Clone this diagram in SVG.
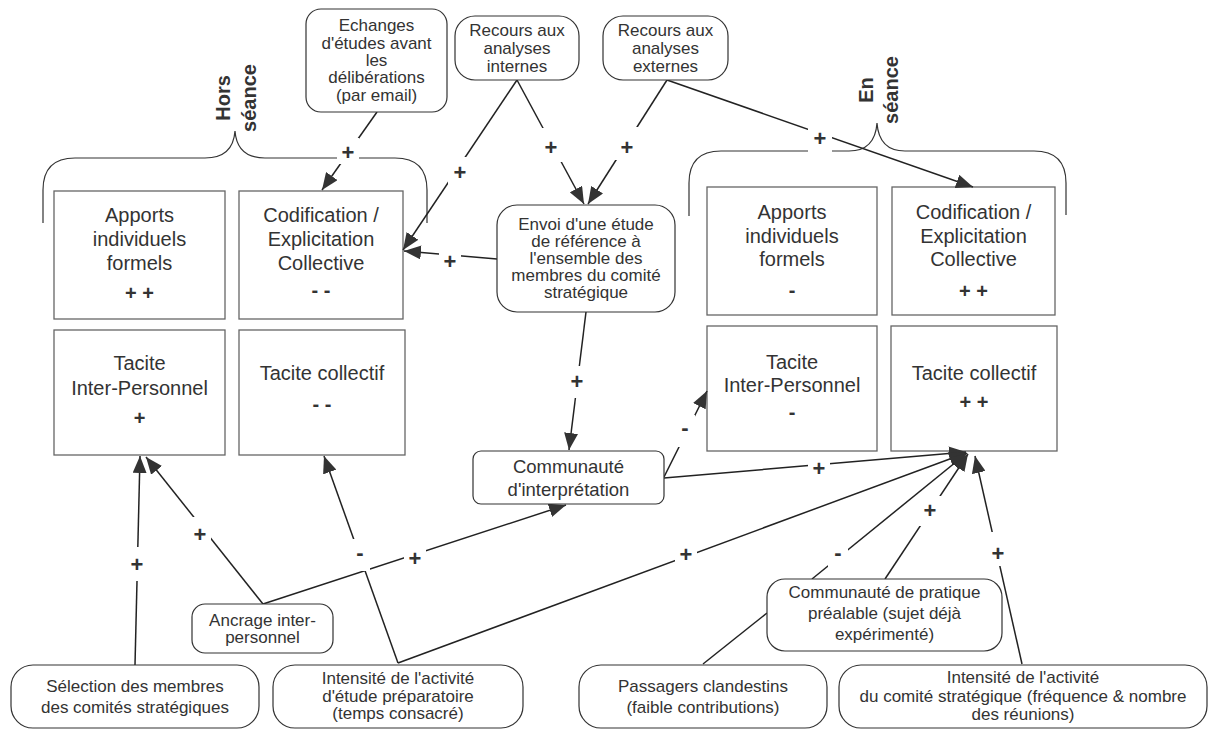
<svg xmlns="http://www.w3.org/2000/svg" width="1210" height="729" viewBox="0 0 1210 729">
<style>
.bg{fill:#fff}
.box{fill:#fff;stroke:#666;stroke-width:1.3}
.rn{fill:#fff;stroke:#333;stroke-width:1.2}
.brace{fill:none;stroke:#333;stroke-width:1.2}
.t{font-family:"Liberation Sans",Arial,sans-serif;font-size:20px;fill:#333;text-anchor:middle}
.s{font-family:"Liberation Sans",Arial,sans-serif;font-size:17px;fill:#333;text-anchor:middle}
.m{font-family:"Liberation Sans",Arial,sans-serif;font-size:18.5px;fill:#333;text-anchor:middle}
.b{font-family:"Liberation Sans",Arial,sans-serif;font-size:20px;font-weight:bold;fill:#333;text-anchor:middle}
.lbl{font-family:"Liberation Sans",Arial,sans-serif;font-size:22px;font-weight:bold;fill:#333;text-anchor:middle}
.e{fill:none;stroke:#222;stroke-width:1.5}
.a{marker-end:url(#arr)}
.lr{fill:#fff}
</style>
<defs>
<marker id="arr" markerUnits="userSpaceOnUse" markerWidth="18" markerHeight="14" refX="17" refY="7" orient="auto">
<path d="M0,0 L17,7 L0,14 z" fill="#333"/>
</marker>
</defs>
<rect class="bg" x="0" y="0" width="1210" height="729"/>

<g id="braces">
<path class="brace" d="M43,223 L43,190 Q43,158 75,158 L205,158 Q233,158 235,131 Q237,158 265,158 L395,158 Q427,158 427,190 L427,223"/>
<path class="brace" d="M689,216 L689,183 Q689,151 721,151 L849,151 Q875,151 877,123 Q879,151 905,151 L1034,151 Q1066,151 1066,183 L1066,215"/>
<text class="b" transform="translate(230,98) rotate(-90)">Hors</text>
<text class="b" transform="translate(256,98) rotate(-90)">séance</text>
<text class="b" transform="translate(873,90) rotate(-90)">En</text>
<text class="b" transform="translate(898,90) rotate(-90)">séance</text>
</g>

<g id="hs-apports">
<rect class="box" x="54" y="191" width="171" height="128"/>
<text class="t" x="139.5" y="222">Apports</text>
<text class="t" x="139.5" y="246">individuels</text>
<text class="t" x="139.5" y="270">formels</text>
<text class="b" x="139.5" y="300">+ +</text>
</g>
<g id="hs-codification">
<rect class="box" x="239" y="191" width="164" height="128"/>
<text class="t" x="321" y="222">Codification /</text>
<text class="t" x="321" y="246">Explicitation</text>
<text class="t" x="321" y="270">Collective</text>
<text class="b" x="321" y="297">- -</text>
</g>
<g id="hs-tacite-ip">
<rect class="box" x="54" y="330" width="171" height="125"/>
<text class="t" x="139.5" y="370">Tacite</text>
<text class="t" x="139.5" y="395">Inter-Personnel</text>
<text class="b" x="139.5" y="425">+</text>
</g>
<g id="hs-tacite-coll">
<rect class="box" x="239" y="330" width="166" height="125"/>
<text class="t" x="322" y="380">Tacite collectif</text>
<text class="b" x="322" y="411">- -</text>
</g>

<g id="es-apports">
<rect class="box" x="707" y="187" width="170" height="128"/>
<text class="t" x="792" y="219">Apports</text>
<text class="t" x="792" y="243">individuels</text>
<text class="t" x="792" y="266">formels</text>
<text class="b" x="792" y="297">-</text>
</g>
<g id="es-codification">
<rect class="box" x="892" y="187" width="163" height="128"/>
<text class="t" x="973.5" y="219">Codification /</text>
<text class="t" x="973.5" y="243">Explicitation</text>
<text class="t" x="973.5" y="266">Collective</text>
<text class="b" x="973.5" y="298">+ +</text>
</g>
<g id="es-tacite-ip">
<rect class="box" x="707" y="326" width="170" height="125"/>
<text class="t" x="792" y="369">Tacite</text>
<text class="t" x="792" y="392">Inter-Personnel</text>
<text class="b" x="792" y="419">-</text>
</g>
<g id="es-tacite-coll">
<rect class="box" x="891" y="326" width="166" height="125"/>
<text class="t" x="974" y="380">Tacite collectif</text>
<text class="b" x="974" y="409">+ +</text>
</g>

<g id="connectors">
<path class="e a" d="M377,112 L322,190"/>
<path class="e a" d="M517,80 L403,250"/>
<path class="e a" d="M517,80 L584,204"/>
<path class="e a" d="M667,80 L588,204"/>
<path class="e a" d="M667,80 L973,187"/>
<path class="e a" d="M497,259 L404,251"/>
<path class="e a" d="M586,312 L569,450"/>
<path class="e a" d="M664,477 L707,391"/>
<path class="e a" d="M664,478 L966,452"/>
<path class="e a" d="M263,604 L146,457"/>
<path class="e a" d="M135,665 L140,456"/>
<path class="e a" d="M398,663 L324,456"/>
<path class="e a" d="M398,663 L966,453"/>
<path class="e a" d="M263,604 L566,505"/>
<path class="e a" d="M812,579 L967,453"/>
<path class="e a" d="M885,579 L968,454"/>
<path class="e a" d="M1022,664 L975,456"/>
<path class="e" d="M703,664 L767,613"/>

<rect class="lr" x="337" y="138" width="22" height="26"/><text class="lbl" x="348" y="160">+</text>
<rect class="lr" x="448" y="157" width="24" height="30"/><text class="lbl" x="460" y="180">+</text>
<rect class="lr" x="539" y="128" width="24" height="34"/><text class="lbl" x="551" y="155">+</text>
<rect class="lr" x="615" y="127" width="24" height="33"/><text class="lbl" x="627" y="155">+</text>
<rect class="lr" x="808" y="124" width="24" height="32"/><text class="lbl" x="820" y="146">+</text>
<rect class="lr" x="439" y="248" width="22" height="26"/><text class="lbl" x="450" y="269">+</text>
<rect class="lr" x="566" y="366" width="22" height="32"/><text class="lbl" x="577" y="389">+</text>
<rect class="lr" x="675" y="415" width="20" height="32"/><text class="lbl" x="685" y="435">-</text>
<rect class="lr" x="808" y="453" width="22" height="30"/><text class="lbl" x="819" y="476">+</text>
<rect class="lr" x="189" y="517" width="22" height="30"/><text class="lbl" x="200" y="542">+</text>
<rect class="lr" x="126" y="547" width="22" height="34"/><text class="lbl" x="137" y="572">+</text>
<rect class="lr" x="350" y="539" width="20" height="32"/><text class="lbl" x="360" y="560">-</text>
<rect class="lr" x="404" y="543" width="22" height="30"/><text class="lbl" x="415" y="566">+</text>
<rect class="lr" x="675" y="541" width="22" height="30"/><text class="lbl" x="686" y="562">+</text>
<rect class="lr" x="828" y="541" width="20" height="28"/><text class="lbl" x="838" y="560">-</text>
<rect class="lr" x="918" y="496" width="24" height="30"/><text class="lbl" x="930" y="518">+</text>
<rect class="lr" x="987" y="532" width="22" height="34"/><text class="lbl" x="998" y="561">+</text>
</g>

<g id="echanges">
<rect class="rn" x="306" y="9" width="141" height="103" rx="15"/>
<text class="s" x="376.5" y="31">Echanges</text>
<text class="s" x="376.5" y="49">d'études avant</text>
<text class="s" x="376.5" y="66">les</text>
<text class="s" x="376.5" y="83">délibérations</text>
<text class="s" x="376.5" y="101">(par email)</text>
</g>
<g id="recours-internes">
<rect class="rn" x="455" y="16" width="124" height="64" rx="20"/>
<text class="s" x="517" y="36">Recours aux</text>
<text class="s" x="517" y="54">analyses</text>
<text class="s" x="517" y="72">internes</text>
</g>
<g id="recours-externes">
<rect class="rn" x="603" y="16" width="125" height="64" rx="20"/>
<text class="s" x="665.5" y="36">Recours aux</text>
<text class="s" x="665.5" y="54">analyses</text>
<text class="s" x="665.5" y="72">externes</text>
</g>
<g id="envoi">
<rect class="rn" x="497" y="205" width="178" height="107" rx="20"/>
<text class="s" x="586" y="230">Envoi d'une étude</text>
<text class="s" x="586" y="247">de référence à</text>
<text class="s" x="586" y="264">l'ensemble des</text>
<text class="s" x="586" y="281">membres du comité</text>
<text class="s" x="586" y="298">stratégique</text>
</g>
<g id="communaute-interpretation">
<rect class="rn" x="473" y="451" width="191" height="53" rx="8"/>
<text class="m" x="568.5" y="473">Communauté</text>
<text class="m" x="568.5" y="496">d'interprétation</text>
</g>
<g id="ancrage">
<rect class="rn" x="192" y="604" width="141" height="49" rx="13"/>
<text class="s" x="262.5" y="626">Ancrage inter-</text>
<text class="s" x="262.5" y="643">personnel</text>
</g>
<g id="selection">
<rect class="rn" x="11" y="665" width="248" height="63" rx="22"/>
<text class="s" x="135" y="692">Sélection des membres</text>
<text class="s" x="135" y="713">des comités stratégiques</text>
</g>
<g id="intensite-preparatoire">
<rect class="rn" x="273" y="665" width="250" height="63" rx="22"/>
<text class="s" x="398" y="684">Intensité de l'activité</text>
<text class="s" x="398" y="702">d'étude préparatoire</text>
<text class="s" x="398" y="719">(temps consacré)</text>
</g>
<g id="communaute-pratique">
<rect class="rn" x="767" y="579" width="235" height="72" rx="18"/>
<text class="s" x="884.5" y="598">Communauté de pratique</text>
<text class="s" x="884.5" y="619">préalable (sujet déjà</text>
<text class="s" x="884.5" y="640">expérimenté)</text>
</g>
<g id="passagers">
<rect class="rn" x="579" y="665" width="248" height="63" rx="22"/>
<text class="s" x="703" y="692">Passagers clandestins</text>
<text class="s" x="703" y="713">(faible contributions)</text>
</g>
<g id="intensite-comite">
<rect class="rn" x="839" y="665" width="368" height="63" rx="22"/>
<text class="s" x="1023" y="683">Intensité de l'activité</text>
<text class="s" x="1023" y="702">du comité stratégique (fréquence &amp; nombre</text>
<text class="s" x="1023" y="720">des réunions)</text>
</g>
</svg>
